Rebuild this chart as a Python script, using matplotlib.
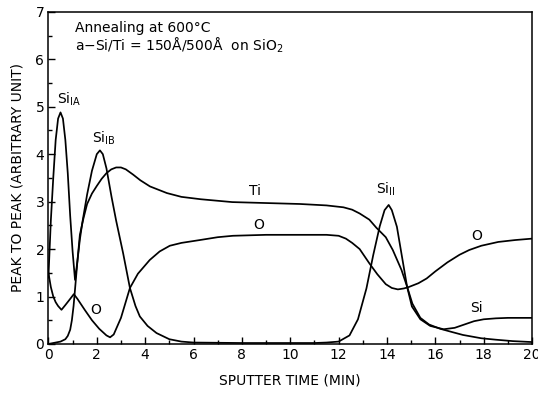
import matplotlib
matplotlib.use("Agg")
import matplotlib.pyplot as plt
from matplotlib.ticker import MultipleLocator

# values (sputter time in min, peak-to-peak height)
si_t = [0, 0.1, 0.2, 0.3, 0.4, 0.5, 0.6, 0.7, 0.8, 0.9, 1.0, 1.1,
        1.2, 1.3, 1.4, 1.5, 1.6, 1.8, 2.0, 2.13, 2.25, 2.4, 2.61, 2.8,
        3.09, 3.37, 3.6, 3.78, 4.1, 4.47, 5.0, 5.5, 6, 8, 10, 11, 11.5,
        12, 12.45, 12.8, 13.15, 13.43, 13.7, 13.9, 14.07, 14.2, 14.41,
        14.62, 14.83, 15.03, 15.38, 15.79, 16.34, 16.8, 17.2, 17.6, 18.0,
        18.5, 19, 19.5, 20]
si_v = [1.4, 2.6, 3.5, 4.3, 4.75, 4.88, 4.75, 4.3, 3.6, 2.7, 1.95, 1.35,
        1.75, 2.2, 2.55, 2.85, 3.15, 3.65, 4.0, 4.08, 4.0, 3.7, 3.1, 2.6,
        1.91, 1.18, 0.8, 0.58, 0.38, 0.23, 0.1, 0.05, 0.03, 0.02, 0.02, 0.02, 0.03,
        0.05, 0.18, 0.52, 1.17, 1.87, 2.48, 2.82, 2.93, 2.82, 2.47,
        1.84, 1.21, 0.79, 0.52, 0.38, 0.31, 0.34, 0.41, 0.48, 0.52,
        0.54, 0.55, 0.55, 0.55]

ti_t = [0, 0.3, 0.5, 0.7, 0.8, 0.9, 0.97, 1.04, 1.1, 1.2, 1.3, 1.45,
        1.6, 1.8, 2.0, 2.2, 2.4, 2.6, 2.8, 3.0, 3.2, 3.5, 3.8, 4.2, 4.9,
        5.5, 6.3, 7.6, 9, 10.4, 11.5, 12.2, 12.56, 12.87, 13.27, 13.56,
        13.95, 14.24, 14.6, 14.83, 15.05, 15.38, 15.74, 16.2, 16.7, 17.14,
        17.9, 18.5, 19.2, 20]
ti_v = [0.0, 0.03, 0.05, 0.1, 0.17, 0.3, 0.5, 0.8, 1.15, 1.75, 2.3, 2.65,
        2.95, 3.17, 3.33, 3.48, 3.6, 3.68, 3.72, 3.72, 3.68, 3.57, 3.45, 3.32, 3.18,
        3.1, 3.05, 2.99, 2.97, 2.95, 2.92, 2.88, 2.83, 2.75, 2.62, 2.45,
        2.25, 1.98, 1.56, 1.21, 0.85, 0.55, 0.41, 0.32, 0.25, 0.19,
        0.12, 0.09, 0.06, 0.04]

o_t = [0, 0.1, 0.2, 0.3, 0.4, 0.54, 0.7, 0.9, 1.05, 1.2, 1.5, 1.8, 2.1,
       2.4, 2.55, 2.7, 3.0, 3.37, 3.7, 4.19, 4.6, 5.02, 5.5, 6.26, 7.0,
       7.63, 9.0, 10.4, 11.5, 12.0, 12.3, 12.56, 12.87, 13.27, 13.6, 13.95,
       14.2, 14.45, 14.7, 14.9, 15.3, 15.64, 16.0, 16.5, 17.0, 17.4, 17.9,
       18.6, 19.3, 20]
o_v = [1.5, 1.2, 1.0, 0.88, 0.8, 0.72, 0.82, 0.95, 1.05, 0.95, 0.72, 0.5, 0.32,
       0.18, 0.14, 0.2, 0.55, 1.18, 1.48, 1.77, 1.95, 2.07, 2.13, 2.19, 2.25,
       2.28, 2.3, 2.3, 2.3, 2.28, 2.22, 2.13, 2.0, 1.7, 1.47, 1.26,
       1.18, 1.15, 1.17, 1.2, 1.28, 1.38, 1.53, 1.72, 1.88, 1.98, 2.07,
       2.15, 2.19, 2.22]

# curve labels: (text, x, y)
labels = [
    (r"Si$_{\mathrm{IA}}$", 0.35, 4.98),
    (r"Si$_{\mathrm{IB}}$", 1.8, 4.15),
    (r"Si$_{\mathrm{II}}$", 13.55, 3.08),
    ("Si", 17.45, 0.6),
    ("Ti", 8.3, 3.08),
    ("O", 8.45, 2.36),
    ("O", 1.75, 0.56),
    ("O", 17.5, 2.12),
]

fig = plt.figure(figsize=(5.38, 3.94), dpi=100)
ax = fig.add_axes([0.090, 0.127, 0.899, 0.843])

for t, v in [(si_t, si_v), (ti_t, ti_v), (o_t, o_v)]:
    ax.plot(t, v, color="black", lw=1.25)

for txt, x, y in labels:
    ax.text(x, y, txt, fontsize=10, ha="left", va="bottom")

ax.text(1.1, 6.08, "Annealing at 600°C\n" + r"a$-$Si/Ti = 150Å/500Å  on SiO$_2$",
        fontsize=10, ha="left", va="bottom", linespacing=1.1)

ax.set_xlim(0, 20)
ax.set_ylim(0, 7)
ax.xaxis.set_major_locator(MultipleLocator(2))
ax.xaxis.set_minor_locator(MultipleLocator(1))
ax.yaxis.set_major_locator(MultipleLocator(1))
ax.yaxis.set_minor_locator(MultipleLocator(0.5))
ax.tick_params(which="both", direction="in", top=False, right=False,
               labelsize=10, width=1.0)
ax.tick_params(which="major", length=5, pad=3)
ax.tick_params(which="minor", length=3)
for s in ax.spines.values():
    s.set_linewidth(1.1)

ax.set_xlabel("SPUTTER TIME (MIN)", fontsize=10, labelpad=8)
ax.set_ylabel("PEAK TO PEAK (ARBITRARY UNIT)", fontsize=10, labelpad=8)

fig.savefig("out.png", dpi=100)
